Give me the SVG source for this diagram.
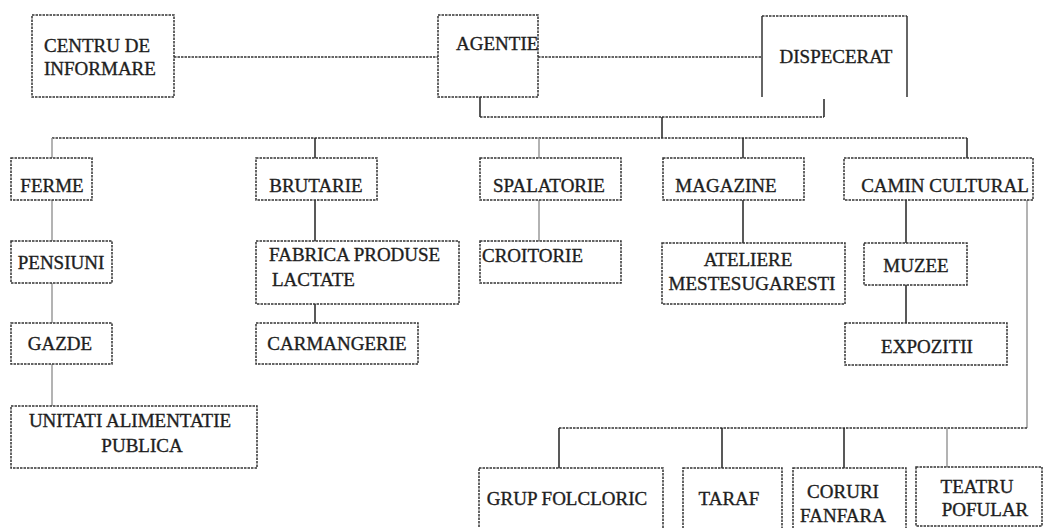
<svg xmlns="http://www.w3.org/2000/svg" width="1044" height="528" viewBox="0 0 1044 528">
<style>
.bg{fill:#ffffff}
.box{fill:#ffffff;stroke:#333333;stroke-width:1.5;stroke-dasharray:2.5 1}
.side{fill:none;stroke:#333333;stroke-width:1.5}
.t{font-family:"Liberation Serif","Times New Roman",serif;font-size:19px;fill:#1e1e1e;stroke:#1e1e1e;stroke-width:0.35}
.m{text-anchor:middle}
.dash{fill:none;stroke:#333333;stroke-width:1.5;stroke-dasharray:2.5 1}
.solid{fill:none;stroke:#222222;stroke-width:1.5}
.grey{fill:none;stroke:#9a9a9a;stroke-width:1.5}
</style>
<rect class="bg" x="0" y="0" width="1044" height="528"/>
<g id="connectors">
<path class="dash" d="M174,57 H438"/>
<path class="dash" d="M538,57 H762"/>
<path class="solid" d="M480,97 V117"/>
<path class="dash" d="M480,117 H824"/>
<path class="solid" d="M824,117 V99"/>
<path class="solid" d="M662,117 V138"/>
<path class="dash" d="M52,138 H967"/>
<path class="grey" d="M52,138 V158"/>
<path class="solid" d="M315,138 V158"/>
<path class="grey" d="M539,138 V158"/>
<path class="solid" d="M743,138 V158"/>
<path class="solid" d="M967,138 V158"/>
<path class="grey" d="M52,200 V241"/>
<path class="grey" d="M52,283 V323"/>
<path class="grey" d="M52,364 V406"/>
<path class="solid" d="M315,200 V241"/>
<path class="solid" d="M315,304 V323"/>
<path class="grey" d="M539,200 V241"/>
<path class="solid" d="M743,200 V243"/>
<path class="solid" d="M906,200 V243"/>
<path class="solid" d="M906,285 V323"/>
<path class="grey" d="M1027,200 V428"/>
<path class="dash" d="M559,428 H1027"/>
<path class="solid" d="M559,428 V468"/>
<path class="solid" d="M722,428 V468"/>
<path class="solid" d="M844,428 V468"/>
<path class="grey" d="M947,428 V467"/>
</g>
<g id="centru">
<rect class="box" x="32" y="15" width="142" height="82"/>
<text class="t" x="44" y="52">CENTRU DE</text>
<text class="t" x="44" y="75">INFORMARE</text>
</g>
<g id="agentie">
<rect class="box" x="438" y="15" width="100" height="82"/>
<text class="t" x="456" y="50">AGENTIE</text>
</g>
<g id="dispecerat">
<path class="side" d="M762,97 V16"/>
<path class="dash" d="M762,16 H907"/>
<path class="side" d="M907,16 V97"/>
<text class="t m" x="836" y="63">DISPECERAT</text>
</g>
<g id="ferme">
<rect class="box" x="11" y="158" width="81" height="42"/>
<text class="t m" x="52" y="192">FERME</text>
</g>
<g id="brutarie">
<rect class="box" x="256" y="158" width="121" height="42"/>
<text class="t m" x="316" y="192">BRUTARIE</text>
</g>
<g id="spalatorie">
<rect class="box" x="480" y="158" width="141" height="42"/>
<text class="t m" x="549" y="192">SPALATORIE</text>
</g>
<g id="magazine">
<rect class="box" x="663" y="158" width="141" height="42"/>
<text class="t m" x="726" y="192">MAGAZINE</text>
</g>
<g id="camin">
<rect class="box" x="844" y="158" width="189" height="42"/>
<text class="t m" x="945" y="192">CAMIN CULTURAL</text>
</g>
<g id="pensiuni">
<rect class="box" x="11" y="241" width="101" height="42"/>
<text class="t m" x="61" y="269">PENSIUNI</text>
</g>
<g id="fabrica">
<rect class="box" x="256" y="241" width="203" height="63"/>
<text class="t" x="269" y="261">FABRICA PRODUSE</text>
<text class="t" x="272" y="286">LACTATE</text>
</g>
<g id="croitorie">
<rect class="box" x="480" y="241" width="141" height="42"/>
<text class="t" x="482" y="262">CROITORIE</text>
</g>
<g id="ateliere">
<rect class="box" x="662" y="243" width="183" height="61"/>
<text class="t m" x="748" y="266">ATELIERE</text>
<text class="t m" x="752" y="290">MESTESUGARESTI</text>
</g>
<g id="muzee">
<rect class="box" x="864" y="243" width="103" height="42"/>
<text class="t m" x="916" y="272">MUZEE</text>
</g>
<g id="expozitii">
<rect class="box" x="845" y="323" width="162" height="42"/>
<text class="t m" x="927" y="353">EXPOZITII</text>
</g>
<g id="gazde">
<rect class="box" x="11" y="323" width="101" height="41"/>
<text class="t m" x="60" y="350">GAZDE</text>
</g>
<g id="carmangerie">
<rect class="box" x="256" y="323" width="162" height="41"/>
<text class="t m" x="337" y="350">CARMANGERIE</text>
</g>
<g id="unitati">
<rect class="box" x="11" y="406" width="246" height="62"/>
<text class="t m" x="130" y="427">UNITATI ALIMENTATIE</text>
<text class="t m" x="142" y="452">PUBLICA</text>
</g>
<g id="grup">
<rect class="box" x="479" y="468" width="184" height="80"/>
<text class="t m" x="567" y="505">GRUP FOLCLORIC</text>
</g>
<g id="taraf">
<rect class="box" x="683" y="468" width="99" height="80"/>
<text class="t m" x="729" y="505">TARAF</text>
</g>
<g id="coruri">
<rect class="box" x="793" y="468" width="113" height="80"/>
<text class="t m" x="843" y="498">CORURI</text>
<text class="t m" x="843" y="522">FANFARA</text>
</g>
<g id="teatru">
<rect class="box" x="916" y="467" width="126" height="59"/>
<text class="t m" x="977" y="493">TEATRU</text>
<text class="t m" x="985" y="516">POFULAR</text>
</g>
</svg>
